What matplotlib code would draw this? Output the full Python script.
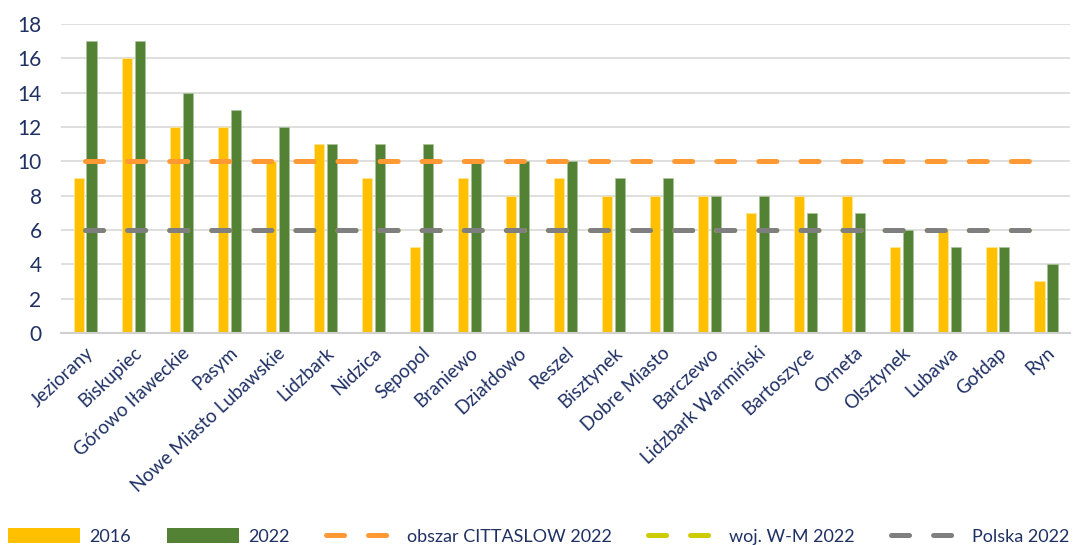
import numpy as np
import matplotlib.pyplot as plt
from matplotlib.patches import Patch
from matplotlib.lines import Line2D

plt.rcParams['font.family'] = ['Lato', 'DejaVu Sans']
plt.rcParams['lines.scale_dashes'] = False

miasta = ["Jeziorany", "Biskupiec", "Górowo Iławeckie", "Pasym", "Nowe Miasto Lubawskie",
          "Lidzbark", "Nidzica", "Sępopol", "Braniewo", "Działdowo", "Reszel", "Bisztynek",
          "Dobre Miasto", "Barczewo", "Lidzbark Warmiński", "Bartoszyce", "Orneta",
          "Olsztynek", "Lubawa", "Gołdap", "Ryn"]
v2016 = [9, 16, 12, 12, 10, 11, 9, 5, 9, 8, 9, 8, 8, 8, 7, 8, 8, 5, 6, 5, 3]
v2022 = [17, 17, 14, 13, 12, 11, 11, 11, 10, 10, 10, 9, 9, 8, 8, 7, 7, 6, 5, 5, 4]
cittaslow = [10] * len(miasta)
woj_wm = [6] * len(miasta)
polska = [6] * len(miasta)

navy = "#1F3064"
c2016, c2022 = "#FFC000", "#548235"
c_citta, c_woj, c_pl = "#FF9933", "#CCCC00", "#7F7F7F"

fig = plt.figure(figsize=(10.78, 5.45), dpi=100)
ax = fig.add_axes([0.0566, 0.389, 0.936, 0.567])

x = np.arange(len(miasta))
w = 0.21
ax.bar(x - 0.135, v2016, w, color=c2016, edgecolor="#FFE699", linewidth=0.5, zorder=2)
ax.bar(x + 0.135, v2022, w, color=c2022, edgecolor="#A9C49A", linewidth=0.5, zorder=2)

dash = dict(lw=3.6, dashes=(13, 17.3), dash_capstyle="round", solid_capstyle="round")
ax.plot(x, woj_wm, color=c_woj, zorder=3, **dash)
ax.plot(x, polska, color=c_pl, zorder=4, **dash)
ax.plot(x, cittaslow, color=c_citta, zorder=4, **dash)

ax.set_xlim(-0.5, 20.5)
ax.set_ylim(0, 18)
ax.set_yticks(range(0, 19, 2))
ax.yaxis.grid(True, color="#D9D9D9", lw=1.2, zorder=0)
ax.set_axisbelow(True)
for s in ["top", "right", "left"]:
    ax.spines[s].set_visible(False)
ax.spines["bottom"].set_color("#D0D0D0")
ax.spines["bottom"].set_linewidth(1.5)
ax.tick_params(axis="both", length=0, colors=navy)
ax.tick_params(axis="y", labelsize=15, pad=14)
ax.set_xticks(x)
ax.set_xticklabels(miasta, rotation=43, ha="right", rotation_mode="anchor", fontsize=13.5)
ax.tick_params(axis="x", pad=8)

handles = [
    Patch(facecolor=c2016),
    Patch(facecolor=c2022),
    Line2D([0], [0], color=c_citta, **dash),
    Line2D([0], [0], color=c_woj, **dash),
    Line2D([0], [0], color=c_pl, **dash),
]
labels = ["2016", "2022", "obszar CITTASLOW 2022", "woj. W-M 2022", "Polska 2022"]
leg = fig.legend(handles, labels, loc="lower center", ncol=5, frameon=False,
                 bbox_to_anchor=(0.5, -0.03), fontsize=13, handlelength=4.0,
                 handleheight=0.9, columnspacing=2.0, handletextpad=0.5)
for t in leg.get_texts():
    t.set_color(navy)

fig.savefig("out.png", dpi=100)
